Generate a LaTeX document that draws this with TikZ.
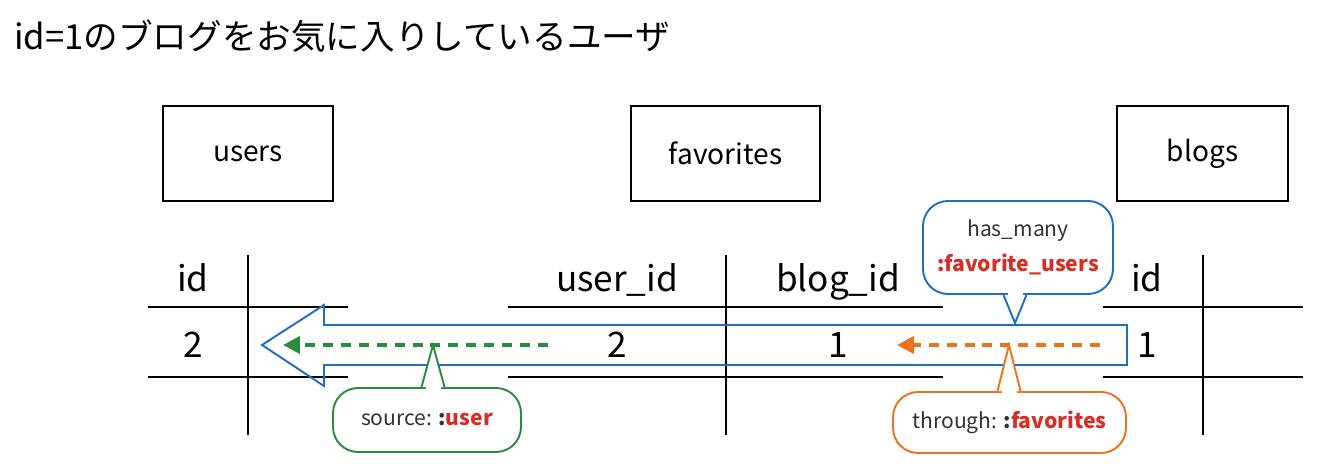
\documentclass[tikz,border=0pt]{standalone}
\usepackage{fontspec}
\setmainfont{Noto Sans CJK JP}
\usetikzlibrary{positioning,arrows.meta,calc}
\definecolor{callblue}{RGB}{30,110,200}
\definecolor{callgreen}{RGB}{40,140,60}
\definecolor{callorange}{RGB}{235,115,30}
\definecolor{keyred}{RGB}{215,45,35}
\definecolor{txtgray}{RGB}{50,50,50}
\tikzset{
  tablebox/.style={draw, line width=1.1pt, minimum height=1.9cm, font=\fontsize{16}{19}\selectfont},
  gridline/.style={line width=1.1pt},
  cell/.style={anchor=base, font=\fontsize{20}{24}\selectfont},
  bigarrow/.style={draw=callblue, line width=1.1pt, line join=miter},
  dasharrow/.style={-{Triangle[length=3.4mm, width=3.4mm]}, line width=2.3pt, dash pattern=on 5.7pt off 4.5pt},
  bubble/.style={draw, line width=1.1pt, rounded corners=0.5cm, fill=white, align=center, font=\fontsize{12}{20}\selectfont, text=txtgray}
}
% tail of a speech bubble: node, tip, colour, side
\newcommand{\bubbletail}[4]{%
  \fill[white] ($(#2 |- #1.#4)+(-0.15cm,-0.05cm)$) rectangle ($(#2 |- #1.#4)+(0.15cm,0.05cm)$);
  \filldraw[draw=#3, fill=white, line width=1.1pt] ($(#2 |- #1.#4)+(-0.23cm,0)$) -- (#2) -- ($(#2 |- #1.#4)+(0.23cm,0)$);
}

\begin{document}
\begin{tikzpicture}[x=0.02cm, y=-0.02cm]
  \useasboundingbox (0,0) rectangle (1330,472);
  \node[anchor=west, font=\fontsize{19.7}{23}\selectfont] (title) at (8,36) {id=1のブログをお気に入りしているユーザ};

  % tables
  \node[tablebox, minimum width=3.4cm] (users) at (248,153.5) {users};
  \node[tablebox, minimum width=3.78cm] (favorites) at (725.5,153.5) {favorites};
  \node[tablebox, minimum width=3.42cm] (blogs) at (1202.5,153.5) {blogs};

  % grid
  \draw[gridline] (148,307) -- (348,307) (148,377) -- (348,377) (248,255) -- (248,435);
  \draw[gridline] (508,307) -- (943,307) (508,377) -- (943,377) (726,255) -- (726,435);
  \draw[gridline] (1103,307) -- (1303,307) (1103,377) -- (1303,377) (1203,255) -- (1203,435);

  \node[cell] (uid) at (193,292) {id};
  \node[cell] (fuser) at (617,292) {user\_id};
  \node[cell] (fblog) at (838,292) {blog\_id};
  \node[cell] (bid) at (1147,292) {id};
  \node[cell] (uval) at (193,358) {2};
  \node[cell] (fuval) at (617,358) {2};
  \node[cell] (fbval) at (838,358) {1};
  \node[cell] (bval) at (1147,358) {1};

  % big arrow
  \draw[bigarrow] (262,345) -- (324,305) -- (324,325) -- (1127,325) -- (1127,365) -- (324,365) -- (324,386) -- cycle;

  % dashed arrows
  \coordinate (gstart) at (548,345);
  \coordinate (gend) at (283,345);
  \coordinate (ostart) at (1100,345);
  \coordinate (oend) at (897,345);
  \draw[dasharrow, callgreen] (gstart) -- (gend);
  \draw[dasharrow, callorange] (ostart) -- (oend);

  % bubbles
  \node[bubble, draw=callblue, minimum width=3.8cm, minimum height=1.86cm] (hasmany) at (1018,247.5) {has\_many\\\textcolor{keyred}{\textbf{:favorite\_users}}};
  \coordinate (hmtip) at (1015,323);
  \bubbletail{hasmany}{hmtip}{callblue}{south}

  \node[bubble, draw=callgreen, minimum width=3.76cm, minimum height=1.28cm] (source) at (427,420) {source: \textbf{:}\textcolor{keyred}{\textbf{user}}};
  \coordinate (srctip) at (433,345);
  \bubbletail{source}{srctip}{callgreen}{north}

  \node[bubble, draw=callorange, minimum width=4.66cm, minimum height=1.22cm] (through) at (1009.5,422.5) {through: \textbf{:}\textcolor{keyred}{\textbf{favorites}}};
  \coordinate (thrtip) at (1009,345);
  \bubbletail{through}{thrtip}{callorange}{north}
\end{tikzpicture}
\end{document}
